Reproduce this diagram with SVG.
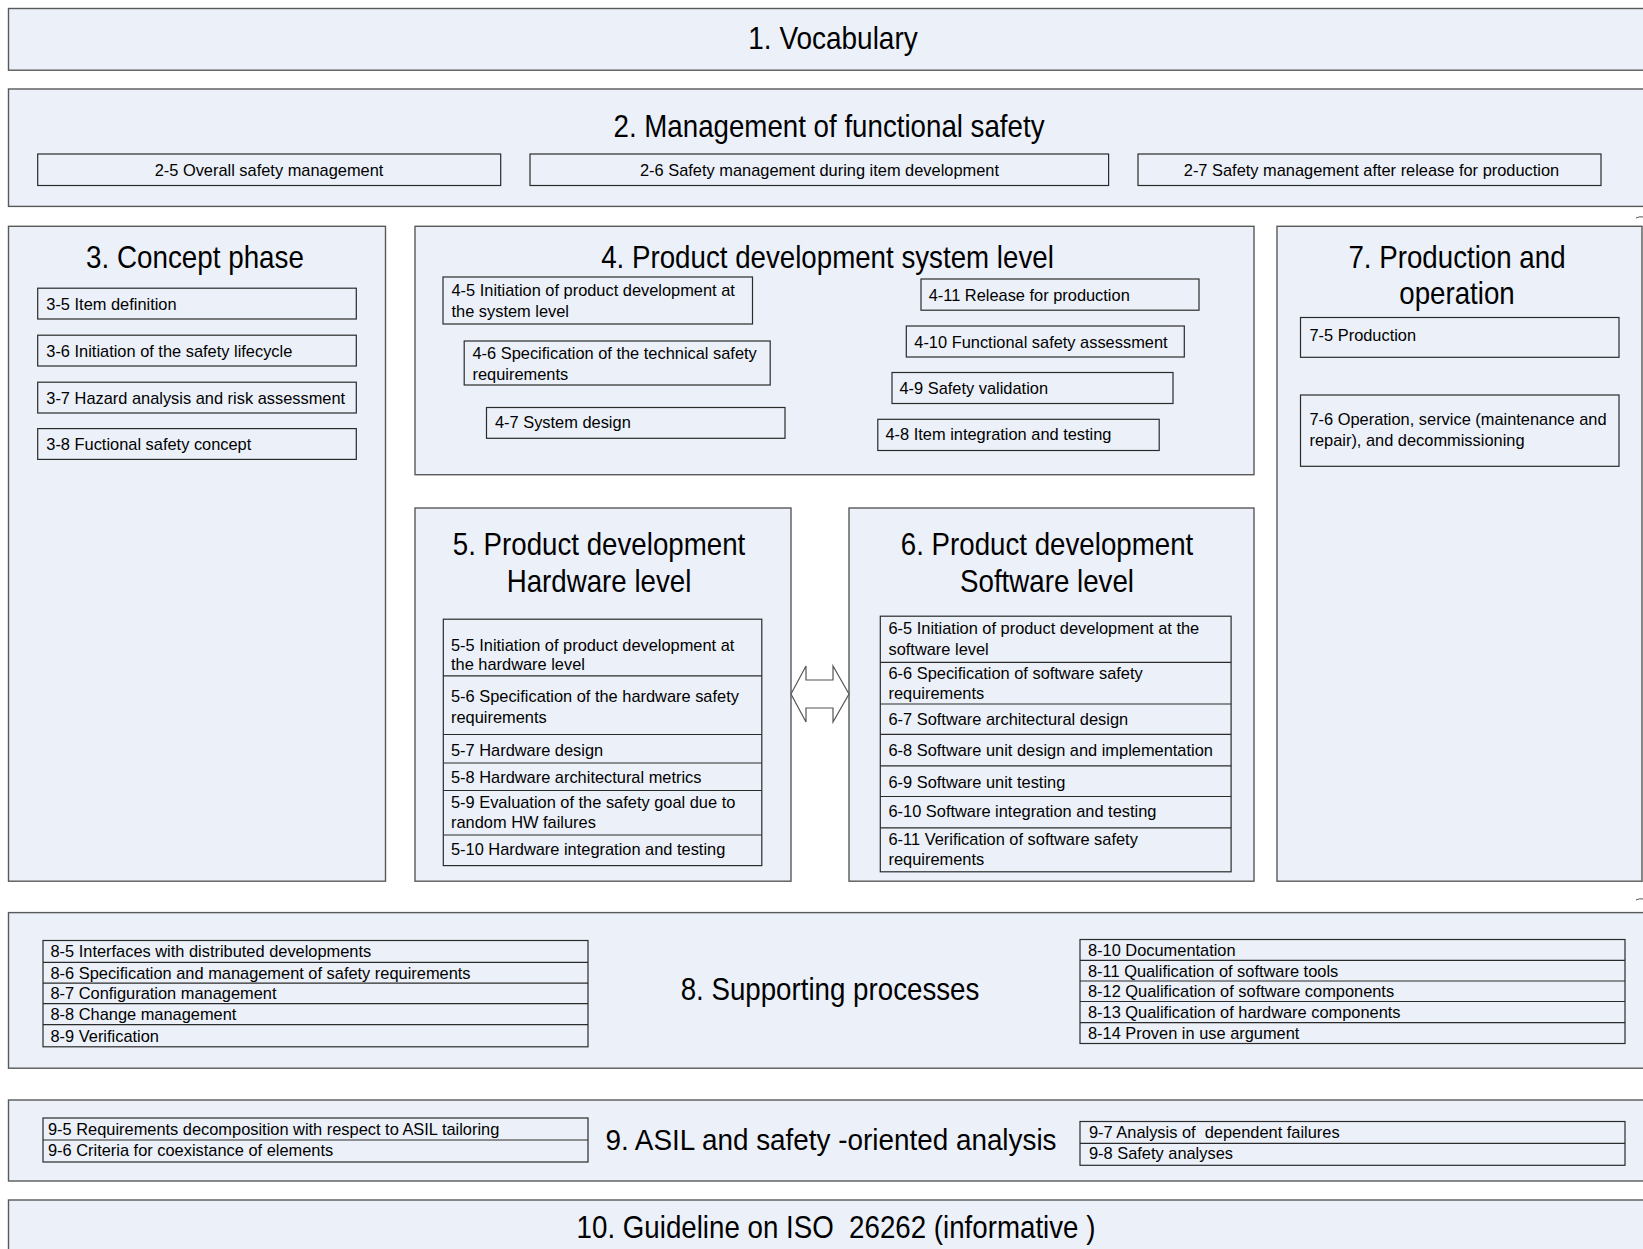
<svg xmlns="http://www.w3.org/2000/svg" width="1643" height="1249" viewBox="0 0 1643 1249">
<style>
  .part{fill:#ecf0f9;stroke:#595959;stroke-width:1.4}
  .item{fill:none;stroke:#2b2b2b;stroke-width:1.2}
  .div{stroke:#2b2b2b;stroke-width:1.2}
  .title{font-family:"Liberation Sans",Arial,sans-serif;font-size:32px;fill:#000;white-space:pre}
  .t{font-family:"Liberation Sans",Arial,sans-serif;font-size:16.4px;fill:#000;white-space:pre}
  .c{text-anchor:middle}
  .arrow{fill:#fff;stroke:#555;stroke-width:1.2}
  .tick{fill:none;stroke:#555;stroke-width:1}
</style>
<rect width="1643" height="1249" fill="#fff"/>

<!-- Part 1 -->
<g id="part1">
  <rect class="part" x="8.5" y="8.5" width="1650" height="61.7"/>
  <text class="title c" x="833" y="49" textLength="169.4" lengthAdjust="spacingAndGlyphs">1. Vocabulary</text>
</g>

<!-- Part 2 -->
<g id="part2">
  <rect class="part" x="8.5" y="89" width="1650" height="117.4"/>
  <text class="title c" x="829" y="137" textLength="431" lengthAdjust="spacingAndGlyphs">2. Management of functional safety</text>
  <g id="item2-5">
    <rect class="item" x="37.7" y="154" width="463" height="31.5"/>
    <text class="t c" x="269" y="175.7">2-5 Overall safety management</text>
  </g>
  <g id="item2-6">
    <rect class="item" x="530" y="154" width="578.6" height="31.5"/>
    <text class="t c" x="819.5" y="175.7">2-6 Safety management during item development</text>
  </g>
  <g id="item2-7">
    <rect class="item" x="1138" y="154" width="463" height="31.5"/>
    <text class="t c" x="1371.5" y="175.7">2-7 Safety management after release for production</text>
  </g>
</g>

<!-- Part 3 -->
<g id="part3">
  <rect class="part" x="8.5" y="226.3" width="377" height="654.9"/>
  <text class="title c" x="195" y="268.2" textLength="217.8" lengthAdjust="spacingAndGlyphs">3. Concept phase</text>
  <g id="item3-5">
    <rect class="item" x="37.7" y="288.2" width="318.6" height="30.8"/>
    <text class="t" x="46.3" y="309.5">3-5 Item definition</text>
  </g>
  <g id="item3-6">
    <rect class="item" x="37.7" y="335.2" width="318.6" height="30.8"/>
    <text class="t" x="46.3" y="356.5">3-6 Initiation of the safety lifecycle</text>
  </g>
  <g id="item3-7">
    <rect class="item" x="37.7" y="382.2" width="318.6" height="30.8"/>
    <text class="t" x="46.3" y="403.5">3-7 Hazard analysis and risk assessment</text>
  </g>
  <g id="item3-8">
    <rect class="item" x="37.7" y="428.6" width="318.6" height="30.8"/>
    <text class="t" x="46.3" y="450">3-8 Fuctional safety concept</text>
  </g>
</g>

<!-- Part 4 -->
<g id="part4">
  <rect class="part" x="415" y="226.3" width="839" height="248.4"/>
  <text class="title c" x="827.5" y="268.2" textLength="452.6" lengthAdjust="spacingAndGlyphs">4. Product development system level</text>
  <g id="item4-5">
    <rect class="item" x="443" y="277" width="309.5" height="47"/>
    <text class="t" x="451.5" y="296">4-5 Initiation of product development at</text>
    <text class="t" x="451.5" y="317">the system level</text>
  </g>
  <g id="item4-6">
    <rect class="item" x="464.2" y="341" width="306" height="44"/>
    <text class="t" x="472.5" y="359">4-6 Specification of the technical safety</text>
    <text class="t" x="472.5" y="380">requirements</text>
  </g>
  <g id="item4-7">
    <rect class="item" x="486.5" y="407.5" width="298.5" height="30.8"/>
    <text class="t" x="495" y="428">4-7 System design</text>
  </g>
  <g id="item4-11">
    <rect class="item" x="921" y="279" width="278" height="31.2"/>
    <text class="t" x="928.7" y="300.5">4-11 Release for production</text>
  </g>
  <g id="item4-10">
    <rect class="item" x="906.3" y="326" width="278" height="31"/>
    <text class="t" x="914.3" y="347.5">4-10 Functional safety assessment</text>
  </g>
  <g id="item4-9">
    <rect class="item" x="892" y="372.5" width="281" height="31"/>
    <text class="t" x="899.5" y="393.5">4-9 Safety validation</text>
  </g>
  <g id="item4-8">
    <rect class="item" x="877.8" y="419.3" width="281.4" height="31.2"/>
    <text class="t" x="885.5" y="440.3">4-8 Item integration and testing</text>
  </g>
</g>

<!-- Part 5 -->
<g id="part5">
  <rect class="part" x="415" y="508" width="376" height="373.2"/>
  <text class="title c" x="599" y="555" textLength="292.5" lengthAdjust="spacingAndGlyphs">5. Product development</text>
  <text class="title c" x="599" y="592" textLength="184.7" lengthAdjust="spacingAndGlyphs">Hardware level</text>
  <g id="stack5">
    <rect class="item" x="443.3" y="619.2" width="318.5" height="246.4"/>
    <path class="div" d="M443.3 675.8H761.8M443.3 734.5H761.8M443.3 763H761.8M443.3 790.5H761.8M443.3 835H761.8"/>
    <text class="t" x="451" y="650.5">5-5 Initiation of product development at</text>
    <text class="t" x="451" y="670.2">the hardware level</text>
    <text class="t" x="451" y="701.6">5-6 Specification of the hardware safety</text>
    <text class="t" x="451" y="722.6">requirements</text>
    <text class="t" x="451" y="756">5-7 Hardware design</text>
    <text class="t" x="451" y="783.4">5-8 Hardware architectural metrics</text>
    <text class="t" x="451" y="807.5">5-9 Evaluation of the safety goal due to</text>
    <text class="t" x="451" y="828.4">random HW failures</text>
    <text class="t" x="451" y="854.7">5-10 Hardware integration and testing</text>
  </g>
</g>

<!-- Part 6 -->
<g id="part6">
  <rect class="part" x="849" y="508" width="405" height="373.2"/>
  <text class="title c" x="1047" y="555" textLength="292.5" lengthAdjust="spacingAndGlyphs">6. Product development</text>
  <text class="title c" x="1047" y="592" textLength="174" lengthAdjust="spacingAndGlyphs">Software level</text>
  <g id="stack6">
    <rect class="item" x="880.3" y="616.2" width="350.8" height="255.6"/>
    <path class="div" d="M880.3 662.4H1231.1M880.3 704H1231.1M880.3 734.4H1231.1M880.3 765.8H1231.1M880.3 796.5H1231.1M880.3 827.9H1231.1"/>
    <text class="t" x="888.5" y="633.5">6-5 Initiation of product development at the</text>
    <text class="t" x="888.5" y="654.5">software level</text>
    <text class="t" x="888.5" y="678.6">6-6 Specification of software safety</text>
    <text class="t" x="888.5" y="698.5">requirements</text>
    <text class="t" x="888.5" y="724.7">6-7 Software architectural design</text>
    <text class="t" x="888.5" y="756.1">6-8 Software unit design and implementation</text>
    <text class="t" x="888.5" y="787.6">6-9 Software unit testing</text>
    <text class="t" x="888.5" y="816.9">6-10 Software integration and testing</text>
    <text class="t" x="888.5" y="845.2">6-11 Verification of software safety</text>
    <text class="t" x="888.5" y="865.1">requirements</text>
  </g>
</g>

<!-- Part 7 -->
<g id="part7">
  <rect class="part" x="1277" y="226.3" width="365" height="654.9"/>
  <text class="title c" x="1457" y="268.2" textLength="217.1" lengthAdjust="spacingAndGlyphs">7. Production and</text>
  <text class="title c" x="1457" y="304" textLength="115.5" lengthAdjust="spacingAndGlyphs">operation</text>
  <g id="item7-5">
    <rect class="item" x="1300.5" y="317.5" width="318.5" height="39.8"/>
    <text class="t" x="1309.5" y="341">7-5 Production</text>
  </g>
  <g id="item7-6">
    <rect class="item" x="1300.5" y="395" width="318.5" height="71.3"/>
    <text class="t" x="1309.5" y="425">7-6 Operation, service (maintenance and</text>
    <text class="t" x="1309.5" y="446">repair), and decommissioning</text>
  </g>
</g>

<!-- Part 8 -->
<g id="part8">
  <rect class="part" x="8.5" y="912.6" width="1650" height="155.6"/>
  <text class="title c" x="830" y="1000" textLength="298.7" lengthAdjust="spacingAndGlyphs">8. Supporting processes</text>
  <g id="stack8a">
    <rect class="item" x="43" y="940.5" width="545" height="106.3"/>
    <path class="div" d="M43 962.3H588M43 983.2H588M43 1003.6H588M43 1024.6H588"/>
    <text class="t" x="50.5" y="957.3">8-5 Interfaces with distributed developments</text>
    <text class="t" x="50.5" y="978.7">8-6 Specification and management of safety requirements</text>
    <text class="t" x="50.5" y="999.3">8-7 Configuration management</text>
    <text class="t" x="50.5" y="1020">8-8 Change management</text>
    <text class="t" x="50.5" y="1041.6">8-9 Verification</text>
  </g>
  <g id="stack8b">
    <rect class="item" x="1080" y="939.5" width="545" height="104"/>
    <path class="div" d="M1080 960.3H1625M1080 981H1625M1080 1001.5H1625M1080 1022.6H1625"/>
    <text class="t" x="1088" y="955.8">8-10 Documentation</text>
    <text class="t" x="1088" y="976.6">8-11 Qualification of software tools</text>
    <text class="t" x="1088" y="997.2">8-12 Qualification of software components</text>
    <text class="t" x="1088" y="1017.9">8-13 Qualification of hardware components</text>
    <text class="t" x="1088" y="1038.9">8-14 Proven in use argument</text>
  </g>
</g>

<!-- Part 9 -->
<g id="part9">
  <rect class="part" x="8.5" y="1100" width="1650" height="81"/>
  <text class="title c" x="831" y="1150" style="font-size:30px" textLength="451.1" lengthAdjust="spacingAndGlyphs">9. ASIL and safety -oriented analysis</text>
  <g id="stack9a">
    <rect class="item" x="43" y="1118" width="545" height="44"/>
    <path class="div" d="M43 1140H588"/>
    <text class="t" x="48" y="1134.6">9-5 Requirements decomposition with respect to ASIL tailoring</text>
    <text class="t" x="48" y="1156">9-6 Criteria for coexistance of elements</text>
  </g>
  <g id="stack9b">
    <rect class="item" x="1080" y="1121.5" width="545" height="43.8"/>
    <path class="div" d="M1080 1143.3H1625"/>
    <text class="t" x="1089" y="1137.8">9-7 Analysis of  dependent failures</text>
    <text class="t" x="1089" y="1159.3">9-8 Safety analyses</text>
  </g>
</g>

<!-- Part 10 -->
<g id="part10">
  <rect class="part" x="8.5" y="1200" width="1650" height="70"/>
  <text class="title c" x="836" y="1237.5" textLength="518.8" lengthAdjust="spacingAndGlyphs">10. Guideline on ISO  26262 (informative )</text>
</g>

<!-- Connectors -->
<g id="connectors">
  <path id="hw-sw-exchange" class="arrow" d="M791 694L806 666V680H833V666L849 694L833 722V708H806V722Z"/>
  <path class="tick" d="M1636 218Q1640 216 1643 217M1636 900Q1640 898 1643 899"/>
</g>
</svg>
